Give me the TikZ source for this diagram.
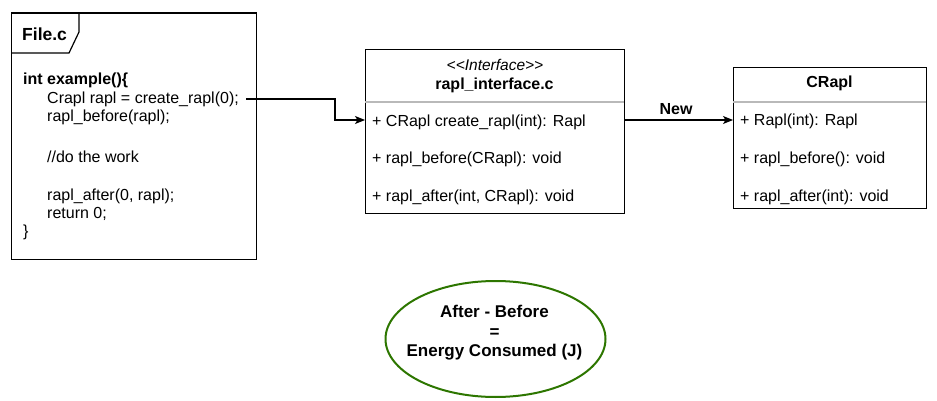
\documentclass[tikz,border=0pt]{standalone}
\usepackage{fontspec}
\setmainfont{Liberation Sans}
\usetikzlibrary{arrows.meta,shapes.geometric}
\definecolor{ellgreen}{HTML}{2D7600}
\tikzset{
  x=1pt,y=-1pt,
  box/.style={draw,line width=1.2pt,anchor=north west,inner sep=0pt},
  txt/.style={anchor=west,inner sep=0pt,font=\fontsize{16}{18}\selectfont},
  btxt/.style={inner sep=0pt,font=\fontsize{16}{18}\selectfont\bfseries},
  conn/.style={line width=1.2pt,-{Stealth[length=10pt,width=8pt,inset=2.5pt]}},
}
\begin{document}
\begin{tikzpicture}
\useasboundingbox (0,0) rectangle (937,401);
% File.c frame
\node[box,minimum width=245,minimum height=246] (file) at (11,12.5) {};
\draw[line width=1.2pt] (11,53) -- (69,53) -- (79,32) -- (79,12.5);
\node[btxt,anchor=west,font=\fontsize{17.5}{20}\selectfont\bfseries] (ftitle) at (22,34) {File.c};
\node[btxt,anchor=west] (c0) at (23,80) {int example()\{};
\node[txt] (c1) at (47,99) {Crapl rapl = create\_rapl(0);};
\node[txt] (c2) at (47,117) {rapl\_before(rapl);};
\node[txt] (c3) at (47,157) {//do the work};
\node[txt] (c4) at (47,196) {rapl\_after(0, rapl);};
\node[txt] (c5) at (47,214) {return 0;};
\node[txt] (c6) at (23,232) {\}};
% interface box
\node[box,minimum width=259,minimum height=164] (iface) at (365,49) {};
\draw[line width=1.2pt,gray!55] (365,102) -- (624,102);
\node[inner sep=0pt,font=\fontsize{15.5}{18}\selectfont\itshape] (st) at (495,65) {<\kern0pt<Interface>\kern0pt>};
\node[btxt] (ititle) at (494.5,85) {rapl\_interface.c};
\node[txt] (i1) at (372,122) {+ CRapl create\_rapl(int): Rapl};
\node[txt] (i2) at (372,159) {+ rapl\_before(CRapl): void};
\node[txt] (i3) at (372,197) {+ rapl\_after(int, CRapl): void};
% CRapl box
\node[box,minimum width=193,minimum height=141] (crapl) at (733,67) {};
\draw[line width=1.2pt,gray!55] (733,102) -- (926,102);
\node[btxt] (ctitle) at (829.5,83) {CRapl};
\node[txt] (r1) at (740,121) {+ Rapl(int): Rapl};
\node[txt] (r2) at (740,159) {+ rapl\_before(): void};
\node[txt] (r3) at (740,197) {+ rapl\_after(int): void};
% connectors
\coordinate (cs) at (246,99);
\coordinate (bend) at (335,99);
\draw[conn] (cs) -- (bend) |- (iface.west |- 0,120);
\draw[conn] (iface.east |- 0,120) -- node[btxt,above=5pt,xshift=-3pt] (newlbl) {New} (crapl.west |- 0,120);
% ellipse
\node[draw=ellgreen,line width=2pt,ellipse,minimum width=220,minimum height=116,inner sep=0pt] (energy) at (495.5,339) {};
\node[btxt,align=center,font=\fontsize{17}{19.5}\selectfont\bfseries] (etext) at (494.5,333) {After - Before\\=\\Energy Consumed (J)};
\end{tikzpicture}
\end{document}
